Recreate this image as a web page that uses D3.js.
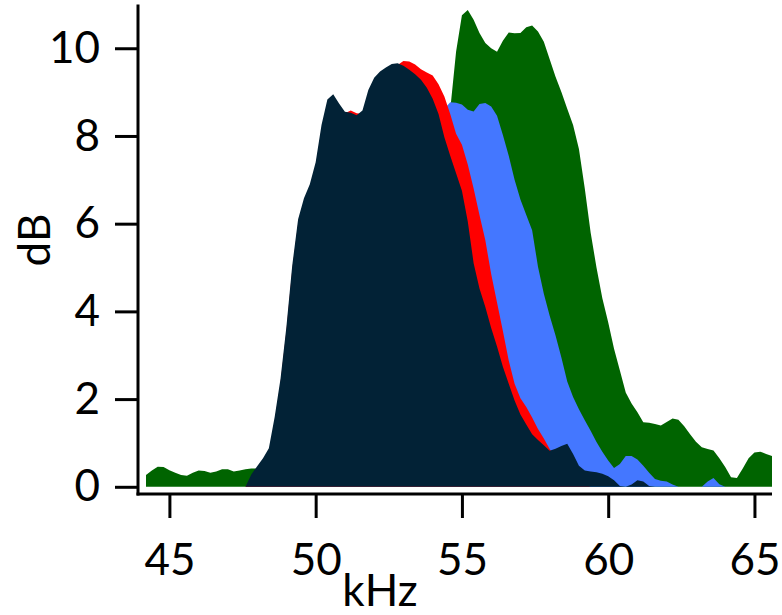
<!DOCTYPE html>
<html>
<head>
<meta charset="utf-8">
<script src="https://cdn.jsdelivr.net/npm/d3@7"></script>
<style>
body { margin: 0; background: #fff; }
</style>
</head>
<body>
<svg class="spectrum_svg"></svg>
<script>
// sample frequencies (kHz), shared by all four traces
const kHz = [
  44.2, 44.4, 44.6, 44.8, 45.0, 45.2, 45.4, 45.6, 45.8, 46.0,
  46.2, 46.4, 46.6, 46.8, 47.0, 47.2, 47.4, 47.6, 47.8, 48.0,
  48.2, 48.4, 48.6, 48.8, 49.0, 49.2, 49.4, 49.6, 49.8, 50.0,
  50.2, 50.4, 50.6, 50.8, 51.0, 51.2, 51.4, 51.6, 51.8, 52.0,
  52.2, 52.4, 52.6, 52.8, 53.0, 53.2, 53.4, 53.6, 53.8, 54.0,
  54.2, 54.4, 54.6, 54.8, 55.0, 55.2, 55.4, 55.6, 55.8, 56.0,
  56.2, 56.4, 56.6, 56.8, 57.0, 57.2, 57.4, 57.6, 57.8, 58.0,
  58.2, 58.4, 58.6, 58.8, 59.0, 59.2, 59.4, 59.6, 59.8, 60.0,
  60.2, 60.4, 60.6, 60.8, 61.0, 61.2, 61.4, 61.6, 61.8, 62.0,
  62.2, 62.4, 62.6, 62.8, 63.0, 63.2, 63.4, 63.6, 63.8, 64.0,
  64.2, 64.4, 64.6, 64.8, 65.0, 65.2, 65.4, 65.6
];

// dB values, back to front
const greenDB = [
  0.27, 0.37, 0.46, 0.45, 0.38, 0.32, 0.27, 0.25, 0.32, 0.37,
  0.36, 0.32, 0.35, 0.40, 0.40, 0.35, 0.37, 0.40, 0.42, 0.42,
  0.44, 0.40, 0.38, 0.42, 0.45, 0.40, 0.36, 0.40, 0.44, 0.42,
  0.38, 0.41, 0.45, 0.43, 0.40, 0.42, 0.46, 0.44, 0.48, 0.52,
  0.60, 0.75, 1.00, 1.50, 2.20, 3.00, 3.90, 4.80, 5.70, 6.50,
  7.20, 7.90, 8.60, 9.92, 10.75, 10.87, 10.65, 10.35, 10.12, 10.00,
  9.92, 10.17, 10.36, 10.34, 10.35, 10.48, 10.52, 10.38, 10.15, 9.75,
  9.35, 9.00, 8.62, 8.25, 7.70, 6.80, 5.80, 5.00, 4.30, 3.75,
  3.15, 2.65, 2.15, 1.90, 1.70, 1.47, 1.46, 1.43, 1.40, 1.48,
  1.56, 1.53, 1.38, 1.20, 1.03, 0.90, 0.86, 0.83, 0.65, 0.45,
  0.22, 0.20, 0.42, 0.65, 0.78, 0.80, 0.75, 0.70
];

const blueDB = [
  0, 0, 0, 0, 0, 0, 0, 0, 0, 0,
  0, 0, 0, 0, 0, 0, 0, 0, 0.05, 0.20,
  0.40, 0.60, 1.20, 2.00, 3.10, 4.40, 5.50, 6.10, 6.50, 6.90,
  7.50, 8.00, 8.20, 8.10, 8.00, 7.95, 7.90, 8.00, 8.30, 8.50,
  8.60, 8.65, 8.70, 8.70, 8.70, 8.68, 8.65, 8.60, 8.55, 8.50,
  8.55, 8.62, 8.77, 8.76, 8.72, 8.60, 8.56, 8.73, 8.75, 8.67,
  8.46, 8.02, 7.55, 7.00, 6.55, 6.20, 5.85, 5.02, 4.40, 3.90,
  3.45, 2.95, 2.40, 2.05, 1.77, 1.52, 1.28, 1.02, 0.80, 0.60,
  0.43, 0.52, 0.70, 0.70, 0.62, 0.48, 0.32, 0.18, 0.14, 0.12,
  0.05, 0, 0, 0, 0, 0, 0.12, 0.20, 0.06, 0,
  0, 0, 0, 0, 0, 0, 0, 0
];

const redDB = [
  0, 0, 0, 0, 0, 0, 0, 0, 0, 0,
  0, 0, 0, 0, 0, 0, 0, 0, 0.20, 0.38,
  0.55, 0.78, 1.50, 2.37, 3.55, 4.95, 6.00, 6.48, 6.80, 7.30,
  8.15, 8.73, 8.85, 8.66, 8.52, 8.58, 8.52, 8.50, 8.95, 9.23,
  9.37, 9.46, 9.55, 9.62, 9.71, 9.70, 9.63, 9.52, 9.45, 9.38,
  9.18, 8.90, 8.50, 8.05, 7.80, 7.35, 6.80, 6.20, 5.62, 4.85,
  4.20, 3.55, 2.88, 2.35, 2.02, 1.82, 1.58, 1.32, 1.10, 0.86,
  0.65, 0.45, 0.30, 0.20, 0.12, 0.05, 0, 0, 0, 0,
  0, 0, 0, 0, 0, 0, 0, 0, 0, 0,
  0, 0, 0, 0, 0, 0, 0, 0, 0, 0,
  0, 0, 0, 0, 0, 0, 0, 0
];

const navyDB = [
  0, 0, 0, 0, 0, 0, 0, 0, 0, 0,
  0, 0, 0, 0, 0, 0, 0, 0, 0.28, 0.47,
  0.65, 0.88, 1.60, 2.47, 3.65, 5.05, 6.10, 6.58, 6.90, 7.40,
  8.25, 8.83, 8.95, 8.74, 8.55, 8.53, 8.47, 8.58, 9.05, 9.33,
  9.47, 9.56, 9.64, 9.66, 9.60, 9.51, 9.41, 9.28, 9.10, 8.85,
  8.50, 7.97, 7.55, 7.15, 6.75, 6.05, 5.10, 4.52, 4.10, 3.62,
  3.20, 2.74, 2.35, 1.97, 1.65, 1.42, 1.20, 1.07, 0.95, 0.82,
  0.87, 0.93, 0.98, 0.75, 0.48, 0.37, 0.35, 0.33, 0.30, 0.24,
  0.15, 0.02, 0, 0.05, 0.15, 0.12, 0.02, 0, 0, 0,
  0, 0, 0, 0, 0, 0, 0, 0, 0, 0,
  0, 0, 0, 0, 0, 0, 0, 0
];

const xTicks = [45, 50, 55, 60, 65];
const yTicks = [0, 2, 4, 6, 8, 10];

let width = 782;
let height = 615;
let fontFamily = "Lato, 'Open Sans', sans-serif";

let svg = d3.select(".spectrum_svg")
    .attr("width", width)
    .attr("height", height);

let xScale = d3.scaleLinear()
    .domain([44.2, 65.6])
    .range([146, 772]);

let yScale = d3.scaleLinear()
    .domain([0, 11])
    .range([486.8, 4.4]);

let traces = [
    {values: greenDB, color: "#006400"},
    {values: blueDB, color: "#4477ff"},
    {values: redDB, color: "#ff0000"},
    {values: navyDB, color: "#022236"}
];

let area = d3.area()
    .x((d, i) => xScale(kHz[i]))
    .y0(yScale(0))
    .y1(d => yScale(d));

svg.append("g")
    .attr("id", "traces")
    .selectAll("path")
    .data(traces)
    .join("path")
    .attr("d", d => area(d.values))
    .attr("fill", d => d.color);

// axes sit a few pixels off the plot area
let xAxisY = 494;
let yAxisX = 138;

let x_axis = svg.append("g")
    .attr("transform", `translate(0, ${xAxisY})`)
    .call(d3.axisBottom(xScale).tickValues(xTicks).tickSize(24).tickPadding(26));
x_axis.select(".domain").remove();
x_axis.attr("font-family", fontFamily).attr("font-size", 44);
x_axis.selectAll("line").attr("stroke-width", 3);
x_axis.selectAll("text").attr("fill", "#000");

let y_axis = svg.append("g")
    .attr("transform", `translate(${yAxisX}, 0)`)
    .call(d3.axisLeft(yScale).tickValues(yTicks).tickSize(23).tickPadding(15));
y_axis.select(".domain").remove();
y_axis.attr("font-family", fontFamily).attr("font-size", 44);
y_axis.selectAll("line").attr("stroke-width", 3);
y_axis.selectAll("text").attr("fill", "#000");

svg.append("line")
    .attr("x1", yAxisX - 1.5)
    .attr("x2", xScale.range()[1])
    .attr("y1", xAxisY)
    .attr("y2", xAxisY)
    .attr("stroke", "#000")
    .attr("stroke-width", 3);

svg.append("line")
    .attr("x1", yAxisX)
    .attr("x2", yAxisX)
    .attr("y1", yScale(11))
    .attr("y2", xAxisY + 1.5)
    .attr("stroke", "#000")
    .attr("stroke-width", 3);

svg.append("text")
    .attr("x", 380)
    .attr("y", 606)
    .attr("text-anchor", "middle")
    .attr("font-family", fontFamily)
    .attr("font-size", 44)
    .text("kHz");

svg.append("text")
    .attr("transform", "translate(50, 240) rotate(-90)")
    .attr("text-anchor", "middle")
    .attr("font-family", fontFamily)
    .attr("font-size", 44)
    .text("dB");
</script>
</body>
</html>
